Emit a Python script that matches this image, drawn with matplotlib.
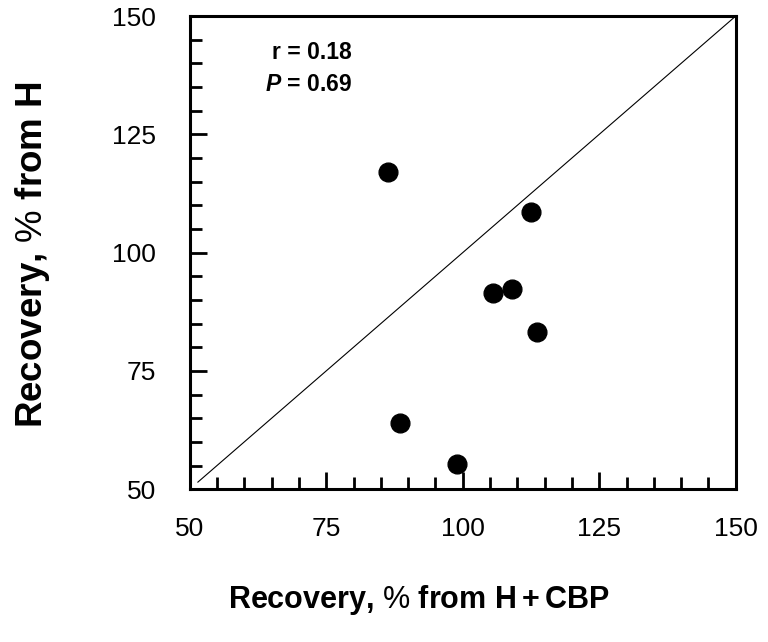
import numpy as np
import matplotlib.pyplot as plt
from matplotlib.ticker import MultipleLocator

plt.rcParams['font.family'] = ['Liberation Sans', 'DejaVu Sans']
plt.rcParams['mathtext.fontset'] = 'custom'
plt.rcParams['mathtext.rm'] = 'Liberation Sans'
plt.rcParams['mathtext.bf'] = 'Liberation Sans:bold'
plt.rcParams['mathtext.it'] = 'Liberation Sans:italic'
plt.rcParams['mathtext.bfit'] = 'Liberation Sans:bold:italic'

# recovery values for each sample (%)
rec_h_cbp = [86.3, 112.5, 105.6, 109.0, 113.6, 99.0, 88.6]
rec_h = [117.0, 108.6, 91.4, 92.4, 83.3, 55.3, 63.9]
r_val = 0.18
p_val = 0.69

fig = plt.figure(figsize=(7.68, 6.42), dpi=100)
ax = fig.add_axes([0.247, 0.238, 0.711, 0.737])

# line of identity
lx = np.array([51.5, 150])
ax.plot(lx, lx, color='black', lw=0.8)

ax.plot(rec_h_cbp, rec_h, 'o', color='black', ms=13.5, mec='black')

ax.set_xlim(50, 150)
ax.set_ylim(50, 150)
ax.xaxis.set_major_locator(MultipleLocator(25))
ax.yaxis.set_major_locator(MultipleLocator(25))
ax.xaxis.set_minor_locator(MultipleLocator(5))
ax.yaxis.set_minor_locator(MultipleLocator(5))
ax.tick_params(which='both', direction='in', width=2, top=False, right=False)
ax.tick_params(which='major', length=12, labelsize=19)
ax.tick_params(axis='x', which='major', pad=20)
ax.tick_params(axis='y', which='major', pad=24)
ax.tick_params(which='minor', length=8.5)
for s in ax.spines.values():
    s.set_linewidth(2.2)

ax.text(0.150, 0.922, 'r = %.2f' % r_val, transform=ax.transAxes,
        fontsize=16.5, fontweight='bold', ha='left', va='center')
ax.text(0.137, 0.855, r'$\mathbfit{P}$ = %.2f' % p_val, transform=ax.transAxes,
        fontsize=16.5, fontweight='bold', ha='left', va='center')

fig.text(0.545, 0.065,
         r'$\mathbf{Recovery{,}}\ \mathrm{\%}\ \mathbf{from\ H + CBP}$',
         fontsize=22, ha='center', va='center')
fig.text(0.042, 0.604, r'$\mathbf{Recovery{,}}\ \mathrm{\%}\ \mathbf{from\ H}$',
         fontsize=26.5, ha='center', va='center', rotation=90)

fig.savefig('out.png', dpi=100)
